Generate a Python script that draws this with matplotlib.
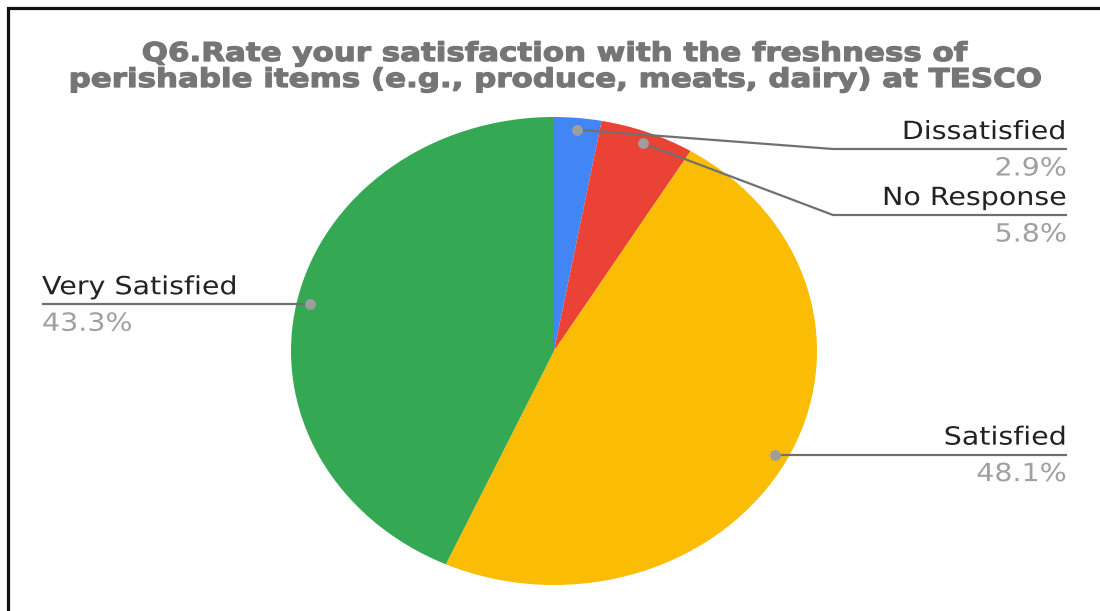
import numpy as np
import matplotlib
matplotlib.use("Agg")
import matplotlib.pyplot as plt
from matplotlib.patheffects import AbstractPathEffect
from matplotlib.transforms import Affine2D

# --- data -------------------------------------------------------------
title_lines = [
    "Q6.Rate your satisfaction with the freshness of",
    "perishable items (e.g., produce, meats, dairy) at TESCO",
]
categories = ["Dissatisfied", "No Response", "Satisfied", "Very Satisfied"]
shares = [2.9, 5.8, 48.1, 43.3]
colors = ["#4285F4", "#EA4335", "#FBBC04", "#34A853"]

W, H = 1100, 611
plt.rcParams["font.family"] = ["DejaVu Sans"]


class HStretch(AbstractPathEffect):
    """Widen glyph outlines horizontally about a fixed display x,
    optionally thickening them with an outline of the fill colour."""

    def __init__(self, sx, anchor_x, stroke=0.0):
        super().__init__()
        self.sx = sx
        self.anchor_x = anchor_x
        self.stroke = stroke

    def draw_path(self, renderer, gc, tpath, affine, rgbFace=None):
        stretch = (Affine2D().translate(-self.anchor_x, 0)
                   .scale(self.sx, 1).translate(self.anchor_x, 0))
        if self.stroke > 0 and rgbFace is not None:
            gc0 = renderer.new_gc()
            gc0.copy_properties(gc)
            gc0.set_linewidth(self.stroke)
            gc0.set_foreground(rgbFace)
            gc0.set_joinstyle("round")
            renderer.draw_path(gc0, tpath, affine + stretch, rgbFace)
            gc0.restore()
        else:
            renderer.draw_path(gc, tpath, affine + stretch, rgbFace)


fig = plt.figure(figsize=(W / 100, H / 100), dpi=100)
fig.patch.set_facecolor("white")

# pie drawn in its own (non-square) axes so it renders as an ellipse
pie_left, pie_top, pie_w, pie_h = 291, 117, 526, 468
pax = fig.add_axes([pie_left / W, (H - pie_top - pie_h) / H, pie_w / W, pie_h / H])
wedges, _ = pax.pie(shares, colors=colors, startangle=90, counterclock=False,
                    radius=1.0, wedgeprops=dict(linewidth=0))
pax.set_aspect("auto")
pax.set_xlim(-1, 1)
pax.set_ylim(-1, 1)
pax.axis("off")

# overlay in pixel coordinates for labels, leaders and frame
ov = fig.add_axes([0, 0, 1, 1], zorder=5)
ov.set_xlim(0, W)
ov.set_ylim(H, 0)
ov.axis("off")
ov.patch.set_alpha(0)


def to_px(x, y):
    d = pax.transData.transform((x, y))
    return ov.transData.inverted().transform(d)


def anchor_disp(x):
    return ov.transData.transform((x, 0))[0]


def stext(x, y, s, sx, ha, stroke=0.0, **kw):
    ov.text(x, y, s, ha=ha, va="baseline",
            path_effects=[HStretch(sx, anchor_disp(x), stroke)], **kw)


# frame edges (left and top)
ov.plot([8, 8, W], [H, 7.5, 7.5], color="#111111", lw=2.3,
        solid_joinstyle="miter", solid_capstyle="butt", clip_on=False)

# title
tcx = 554.5
for line, base in zip(title_lines, [61, 87]):
    stext(tcx, base, line, 1.19, "center", stroke=0.9, fontsize=18.7,
          fontweight="bold", color="#757575")

# anchor points on each wedge
dots = []
for w in wedges:
    mid = np.deg2rad((w.theta1 + w.theta2) / 2)
    dots.append(to_px(0.95 * np.cos(mid), 0.95 * np.sin(mid)))

right_x = 1067
left_x = 42
elbow_x = 833
lead_col = "#707070"
dot_col = "#9E9E9E"
lab_col = "#222222"
pct_col = "#A0A0A0"
fs = 18
sx = 1.14

for i, (cat, val) in enumerate(zip(categories, shares)):
    dx, dy = dots[i]
    if cat == "Dissatisfied":
        ly = 149
        xs, ys = [dx, elbow_x, right_x], [dy, ly, ly]
        tx, ha = right_x, "right"
    elif cat == "No Response":
        ly = 215
        xs, ys = [dx, elbow_x, right_x], [dy, ly, ly]
        tx, ha = right_x, "right"
    elif cat == "Satisfied":
        ly = dy
        xs, ys = [dx, right_x], [ly, ly]
        tx, ha = right_x, "right"
    else:
        ly = dy
        xs, ys = [dx, left_x], [ly, ly]
        tx, ha = left_x, "left"
    ov.plot(xs, ys, color=lead_col, lw=1.6, solid_capstyle="butt")
    ov.plot([dx], [dy], "o", ms=7.8, color=dot_col, mec="none")
    stext(tx, ly - 10, cat, sx, ha, fontsize=fs, color=lab_col)
    stext(tx, ly + 26.5, f"{val:.1f}%", sx, ha, fontsize=fs, color=pct_col)

fig.savefig("out.png", dpi=100, facecolor="white")
